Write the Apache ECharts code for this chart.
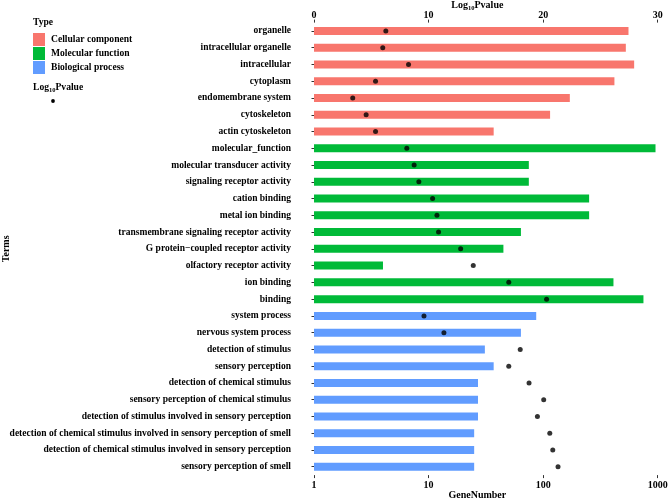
<!DOCTYPE html>
<html><head><meta charset="utf-8">
<script src="https://cdn.jsdelivr.net/npm/echarts@6/dist/echarts.min.js"></script>
<style>html,body{margin:0;padding:0;background:#fff}#c{width:669px;height:500px}</style>
</head><body><div id="c"></div>
<script>
const terms = ["organelle","intracellular organelle","intracellular","cytoplasm","endomembrane system","cytoskeleton","actin cytoskeleton",
"molecular_function","molecular transducer activity","signaling receptor activity","cation binding","metal ion binding","transmembrane signaling receptor activity","G protein\u2212coupled receptor activity","olfactory receptor activity","ion binding","binding",
"system process","nervous system process","detection of stimulus","sensory perception","detection of chemical stimulus","sensory perception of chemical stimulus","detection of stimulus involved in sensory perception","detection of chemical stimulus involved in sensory perception of smell","detection of chemical stimulus involved in sensory perception","sensory perception of smell"];
const types = ["CC","CC","CC","CC","CC","CC","CC","MF","MF","MF","MF","MF","MF","MF","MF","MF","MF","BP","BP","BP","BP","BP","BP","BP","BP","BP","BP"];
const geneNumber = [556,527,623,419,171,115,37, 957,75,75,252,252,64,45,4,411,751, 87,64,31,37,27,27,27,25,25,25];
const log10Pvalue = [6.27,6.0,8.25,5.37,3.38,4.55,5.37, 8.1,8.74,9.15,10.35,10.73,10.87,12.8,13.9,17.0,20.3, 9.6,11.34,18.0,17.0,18.77,20.05,19.5,20.58,20.84,21.3];
const typeNames = {CC:"Cellular component", MF:"Molecular function", BP:"Biological process"};
const typeColors = {CC:"#F8766D", MF:"#00BA38", BP:"#619CFF"};
const geneTicks = [1,10,100,1000];
const pTicks = [0,10,20,30];

const font = "Liberation Serif";
// ggplot-style 5% expansion on the lower end of the shared x range (3 decades / 30 units)
const expandFrac = 0.0495;
const geneMin = Math.pow(10, -3 * expandFrac);
const pMin = -30 * expandFrac;

const chart = echarts.init(document.getElementById('c'));
const barSeries = ["CC","MF","BP"].map(t => ({
  name: typeNames[t], type: 'bar', xAxisIndex: 0, yAxisIndex: 0,
  barWidth: 8, barGap: '-100%',
  itemStyle: {color: typeColors[t]},
  data: terms.map((n,i) => types[i] === t ? geneNumber[i] : '-')
}));
const nameRich = {
  a: {fontFamily: font, fontWeight: 'bold', fontSize: 10, color: '#000'},
  b: {fontFamily: font, fontWeight: 'bold', fontSize: 6.5, color: '#000', padding: [5,0,0,0]}
};
chart.setOption({
  backgroundColor: '#fff',
  animation: false,
  grid: {left: 297, right: 11.3, top: 22.6, bottom: 24.9, containLabel: false, outerBoundsMode: 'none'},
  legend: {
    orient: 'vertical', left: 28, top: 28, itemWidth: 12, itemHeight: 13, itemGap: 1,
    icon: 'rect', data: barSeries.map(s => s.name),
    textStyle: {fontFamily: font, fontWeight: 'bold', fontSize: 9.6, color: '#000', padding: [0,0,0,1]}
  },
  graphic: [
    {type: 'text', left: 33, top: 18, style: {text: 'Type', fontFamily: font, fontWeight: 'bold', fontSize: 9.6, fill: '#000'}},
    {type: 'text', left: 33, top: 83, style: {text: '{a|Log}{b|10}{a|Pvalue}', rich: {
      a: {fontFamily: font, fontWeight: 'bold', fontSize: 9.6, fill: '#000'},
      b: {fontFamily: font, fontWeight: 'bold', fontSize: 6.5, fill: '#000', padding: [5,0,0,0]}}}},
    {type: 'circle', shape: {cx: 53, cy: 101, r: 1.9}, style: {fill: '#000'}}
  ],
  xAxis: [
    {type: 'log', logBase: 10, min: geneMin, max: 1000, position: 'bottom',
     name: '{a|GeneNumber}', nameLocation: 'middle', nameGap: 15, nameMoveOverlap: false, nameTextStyle: {rich: nameRich},
     axisLine: {show: false}, splitLine: {show: false}, minorTick: {show: false},
     axisTick: {show: true, length: 3, lineStyle: {color: '#333'}, customValues: geneTicks},
     axisLabel: {margin: 5, fontFamily: font, fontWeight: 'bold', fontSize: 10, color: '#000', customValues: geneTicks,
       formatter: v => String(Math.round(v))}},
    {type: 'value', min: pMin, max: 30, position: 'top',
     name: '{a|Log}{b|10}{a|Pvalue}', nameLocation: 'middle', nameGap: 11, nameMoveOverlap: false, nameTextStyle: {rich: nameRich},
     axisLine: {show: false}, splitLine: {show: false},
     axisTick: {show: true, length: 3, lineStyle: {color: '#333'}, customValues: pTicks},
     axisLabel: {margin: 2, fontFamily: font, fontWeight: 'bold', fontSize: 10, color: '#000', customValues: pTicks,
       formatter: v => String(v)}}
  ],
  yAxis: {
    type: 'category', data: terms, inverse: true,
    name: 'Terms', nameLocation: 'middle', nameGap: 286, nameRotate: 90, nameMoveOverlap: false,
    nameTextStyle: {fontFamily: font, fontWeight: 'bold', fontSize: 10, color: '#000'},
    axisLine: {show: false}, splitLine: {show: false},
    axisTick: {show: true, alignWithLabel: true, length: 2.5, lineStyle: {color: '#333'}},
    axisLabel: {margin: 6, interval: 0, fontFamily: font, fontWeight: 'bold', fontSize: 9.5, color: '#000'}
  },
  series: barSeries.concat([{
    name: 'Log10Pvalue', type: 'scatter', xAxisIndex: 1, yAxisIndex: 0,
    symbolSize: 5, itemStyle: {color: '#000'},
    data: terms.map((n,i) => [log10Pvalue[i], n])
  }])
});
</script></body></html>
